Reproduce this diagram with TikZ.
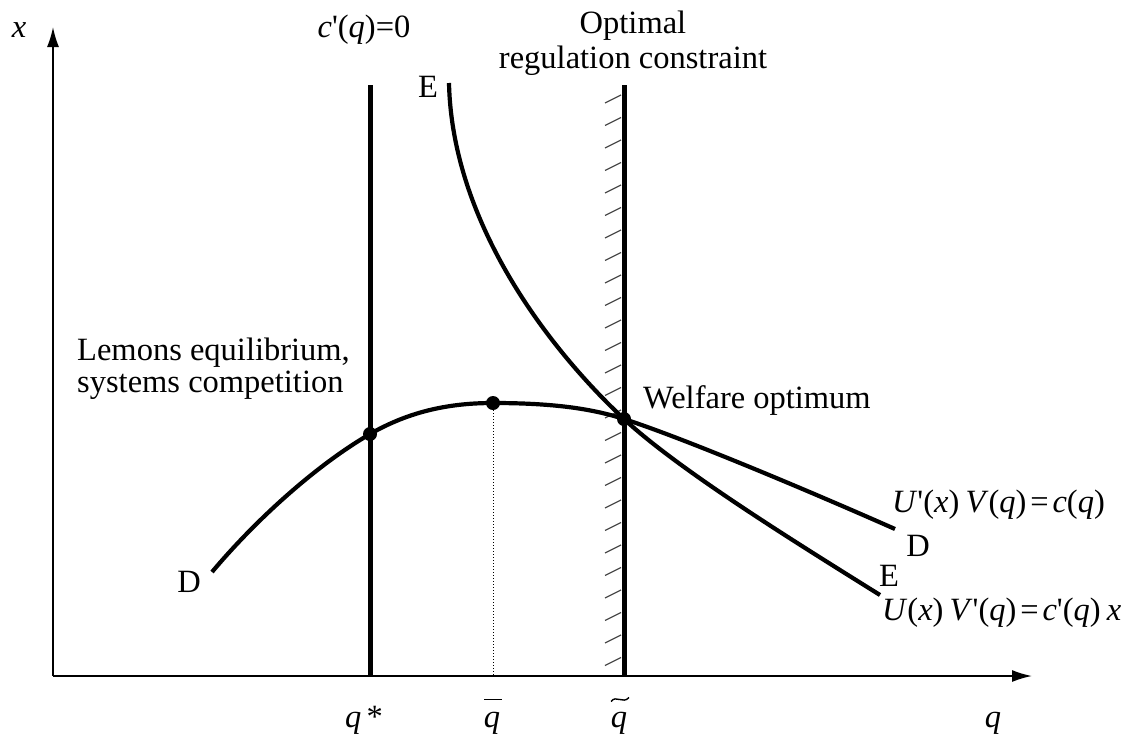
\documentclass[tikz,border=0pt]{standalone}
\usepackage{fontspec}
\newfontfamily\tnr{Liberation Serif}
\usetikzlibrary{arrows.meta}
\newcommand\eqsp{\hspace{0.12em}}
\newcommand\wsp{\hspace{0.19em}}
\begin{document}
\begin{tikzpicture}[x=1pt,y=-1pt,
  lbl/.style={font=\tnr\fontsize{32.5}{34}\selectfont, inner sep=0pt},
  axis/.style={line width=1.7pt, -{Latex[length=20pt,width=12pt]}},
  wall/.style={line width=5pt},
  curve/.style={line width=4.2pt},
  hatch/.style={line width=1.2pt, black!70},
  dot/.style={circle, fill=black, inner sep=0pt, minimum size=14pt}]
\useasboundingbox (0,0) rectangle (1128,748);
% axes
\coordinate (O) at (53,676);
\coordinate (ytip) at (53,27);
\coordinate (xtip) at (1032,676);
\draw[axis] (O) -- (ytip);
\draw[axis] (O) -- (xtip);
% walls
\coordinate (w1t) at (370,85);
\coordinate (w1b) at (370,676);
\coordinate (w2t) at (624,85);
\coordinate (w2b) at (624,676);
\draw[wall] (w1t) -- (w1b);
\draw[wall] (w2t) -- (w2b);
% hatching
\foreach \k in {0,...,25}
  \draw[hatch] (621,{95+22.5*\k}) -- ++(-16,8);
% key points
\coordinate (Dstart) at (212,572);
\coordinate (Dend) at (895,529);
\coordinate (Estart) at (449,83);
\coordinate (Eend) at (880,595);
\coordinate (Plemon) at (370,434);
\coordinate (Ppeak) at (493,403);
\coordinate (Popt) at (624,419);
% curve D
\draw[curve] (Dstart) .. controls (260,515) and (320,463) .. (Plemon)
  .. controls (410,411) and (450,403) .. (Ppeak)
  .. controls (550,403) and (590,408) .. (Popt)
  .. controls (680,437) and (800,487) .. (Dend);
% curve E
\draw[curve] (Estart) .. controls (452,220) and (545,345) .. (Popt)
  .. controls (680,471) and (800,545) .. (Eend);
% points
\node[dot] (lemon) at (Plemon) {};
\node[dot] (peak) at (Ppeak) {};
\node[dot] (opt) at (Popt) {};
\coordinate (peakfoot) at (493,676);
\draw[dotted, line width=1pt] (peak) -- (peakfoot);
% labels
\node[lbl, anchor=base] (xl) at (19,37) {\itshape x};
\node[lbl, anchor=base] (cq) at (364,37) {\textit{c}'(\textit{q})=0};
\node[lbl, anchor=base] (opt1) at (633,33) {Optimal};
\node[lbl, anchor=base] (opt2) at (633,68) {regulation constraint};
\node[lbl, anchor=base] (Etop) at (428,97) {E};
\node[lbl, anchor=base west] (lem1) at (77,360) {Lemons equilibrium,};
\node[lbl, anchor=base west] (lem2) at (77,392) {systems competition};
\node[lbl, anchor=base west] (wel) at (643,408) {Welfare optimum};
\node[lbl, anchor=base west] (eqD) at (892,512) {\textit{U}'(\textit{x})\wsp\textit{V}(\textit{q})\eqsp=\eqsp\textit{c}(\textit{q})};
\node[lbl, anchor=base] (Dr) at (918,556) {D};
\node[lbl, anchor=base] (Er) at (889,586) {E};
\node[lbl, anchor=base west] (eqE) at (882,620) {\textit{U}(\textit{x})\wsp\textit{V}'(\textit{q})\eqsp=\eqsp\textit{c}'(\textit{q})\wsp\textit{x}};
\node[lbl, anchor=base] (Dl) at (189,592) {D};
\node[lbl, anchor=base] (qs) at (364,727) {\textit{q}\,*};
\node[lbl, anchor=base] (qb) at (492,727) {\textit{q}};
\draw[line width=1.4pt] ([xshift=-8pt,yshift=12pt]qb.north) -- ([xshift=10pt,yshift=12pt]qb.north);
\node[lbl, anchor=base] (qt) at (619,727) {\textit{q}};
\draw[line width=1.4pt] ([xshift=-8pt,yshift=10pt]qt.north) .. controls ([xshift=-3pt,yshift=17pt]qt.north) and ([xshift=4pt,yshift=7pt]qt.north) .. ([xshift=10pt,yshift=14pt]qt.north);
\node[lbl, anchor=base] (ql) at (993,727) {\textit{q}};
\end{tikzpicture}
\end{document}
